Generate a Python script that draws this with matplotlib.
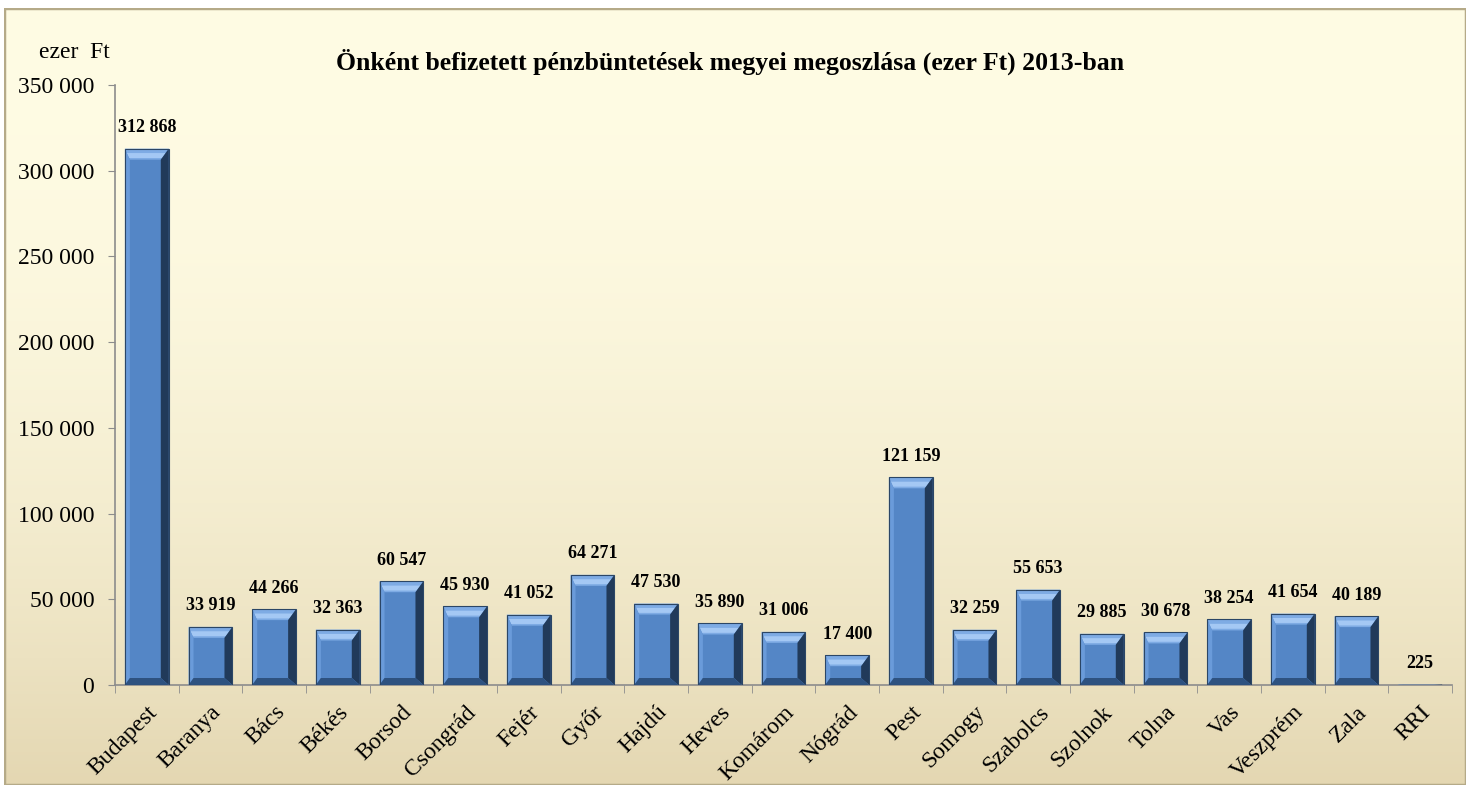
import numpy as np
import matplotlib
matplotlib.use('Agg')
import matplotlib.pyplot as plt
from matplotlib.patches import Polygon, Rectangle
from matplotlib.ticker import FuncFormatter, FixedLocator

plt.rcParams['font.family'] = ['Liberation Serif', 'DejaVu Serif']

# data
counties = ['Budapest', 'Baranya', 'Bács', 'Békés', 'Borsod', 'Csongrád', 'Fejér',
            'Győr', 'Hajdú', 'Heves', 'Komárom', 'Nógrád', 'Pest', 'Somogy',
            'Szabolcs', 'Szolnok', 'Tolna', 'Vas', 'Veszprém', 'Zala', 'RRI']
fines = [312868, 33919, 44266, 32363, 60547, 45930, 41052,
         64271, 47530, 35890, 31006, 17400, 121159, 32259,
         55653, 29885, 30678, 38254, 41654, 40189, 225]
y_ticks = [0, 50000, 100000, 150000, 200000, 250000, 300000, 350000]

TITLE = 'Önként befizetett pénzbüntetések megyei megoszlása (ezer Ft) 2013-ban'
UNIT = 'ezer  Ft'

W, H = 1468, 789
BAR_FACE = '#5486C6'
BEV_TOP = '#7EABE4'
BEV_TOP_HI = '#A4C8F4'
BEV_LEFT = '#6A9BDA'
BEV_RIGHT = '#213A5A'
BEV_BOT = '#2E5280'
BAR_EDGE = '#2B4666'


def fmt(v, pos=None):
    return '{:,}'.format(int(v)).replace(',', ' ')


fig = plt.figure(figsize=(W / 100, H / 100), dpi=100)
fig.patch.set_facecolor('white')

# background panel with vertical gradient
bg = fig.add_axes([4 / W, 4 / H, 1 - 6 / W, 1 - 12 / H])
bg.set_axis_off()
t = np.linspace(0, 1, 256) ** 2.0
top = np.array([255, 252, 228]) / 255
bot = np.array([228, 215, 178]) / 255
grad = top[None, :] * (1 - t[:, None]) + bot[None, :] * t[:, None]
bg.imshow(grad[:, None, :], aspect='auto', extent=[0, 1, 0, 1], origin='upper')
bg.add_patch(Rectangle((0, 0), 1, 1, transform=bg.transAxes, fill=False,
                       edgecolor='#b5aa88', linewidth=2.5))
bg.set_xlim(0, 1)
bg.set_ylim(0, 1)

ax_l, ax_r, ax_t, ax_b = 115, 1452, 85, 685
ax = fig.add_axes([ax_l / W, 1 - ax_b / H, (ax_r - ax_l) / W, (ax_b - ax_t) / H])
ax.patch.set_alpha(0)

x = np.arange(len(counties))
bw = 0.69
bars = ax.bar(x, fines, width=bw, color=BAR_FACE, edgecolor='none', zorder=2)

ax.set_xlim(-0.5, len(counties) - 0.5)
ax.set_ylim(0, 350000)

# bevel sizes in pixels -> data units
px_x = (len(counties)) / (ax_r - ax_l)
px_y = 350000 / (ax_b - ax_t)
bt, bs_l, bs_r, bb = 11 * px_y, 5 * px_x, 8 * px_x, 7 * px_y
for b in bars:
    x0, x1 = b.get_x(), b.get_x() + b.get_width()
    h = b.get_height()
    tt = min(bt, h / 2)
    tb = min(bb, h / 2)
    # top (two bands for a soft gradient)
    ax.add_patch(Polygon([(x0, h), (x1, h), (x1 - bs_r, h - tt), (x0 + bs_l, h - tt)],
                         closed=True, facecolor=BEV_TOP, edgecolor='none', zorder=3))
    ax.add_patch(Polygon([(x0 + bs_l * 0.4, h - tt * 0.4), (x1 - bs_r * 0.4, h - tt * 0.4),
                          (x1 - bs_r * 0.85, h - tt * 0.85), (x0 + bs_l * 0.85, h - tt * 0.85)],
                         closed=True, facecolor=BEV_TOP_HI, edgecolor='none', zorder=3))
    # left
    ax.add_patch(Polygon([(x0, h), (x0 + bs_l, h - tt), (x0 + bs_l, tb), (x0, 0)],
                         closed=True, facecolor=BEV_LEFT, edgecolor='none', zorder=3))
    # right
    ax.add_patch(Polygon([(x1, h), (x1 - bs_r, h - tt), (x1 - bs_r, tb), (x1, 0)],
                         closed=True, facecolor=BEV_RIGHT, edgecolor='none', zorder=3))
    # bottom
    ax.add_patch(Polygon([(x0, 0), (x1, 0), (x1 - bs_r, tb), (x0 + bs_l, tb)],
                         closed=True, facecolor=BEV_BOT, edgecolor='none', zorder=3))
    ax.add_patch(Rectangle((x0, 0), x1 - x0, h, fill=False, edgecolor=BAR_EDGE,
                           linewidth=0.8, zorder=4))
    ax.annotate(fmt(h), (b.get_x() + b.get_width() / 2, h), xytext=(0, 9),
                textcoords='offset points', ha='center', va='bottom',
                fontsize=13, fontweight='bold', color='black')

for side in ['top', 'right']:
    ax.spines[side].set_visible(False)
for side in ['left', 'bottom']:
    ax.spines[side].set_color('#8c8c8c')
    ax.spines[side].set_linewidth(1.2)

ax.yaxis.set_major_locator(FixedLocator(y_ticks))
ax.yaxis.set_major_formatter(FuncFormatter(fmt))
ax.tick_params(axis='y', length=5, color='#8c8c8c', pad=10, labelsize=17)

ax.set_xticks(x)
ax.set_xticklabels(counties, rotation=45, ha='right', rotation_mode='anchor',
                   fontsize=17)
ax.set_xticks(np.arange(-0.5, len(counties), 1), minor=True)
ax.tick_params(axis='x', which='major', length=0, pad=12)
ax.tick_params(axis='x', which='minor', length=6, color='#8c8c8c')

fig.text(730 / W, 1 - 62 / H, TITLE, ha='center', va='center',
         fontsize=18.5, fontweight='bold')
fig.text(74 / W, 1 - 52 / H, UNIT, ha='center', va='center', fontsize=17)

fig.savefig('out.png', dpi=100)
